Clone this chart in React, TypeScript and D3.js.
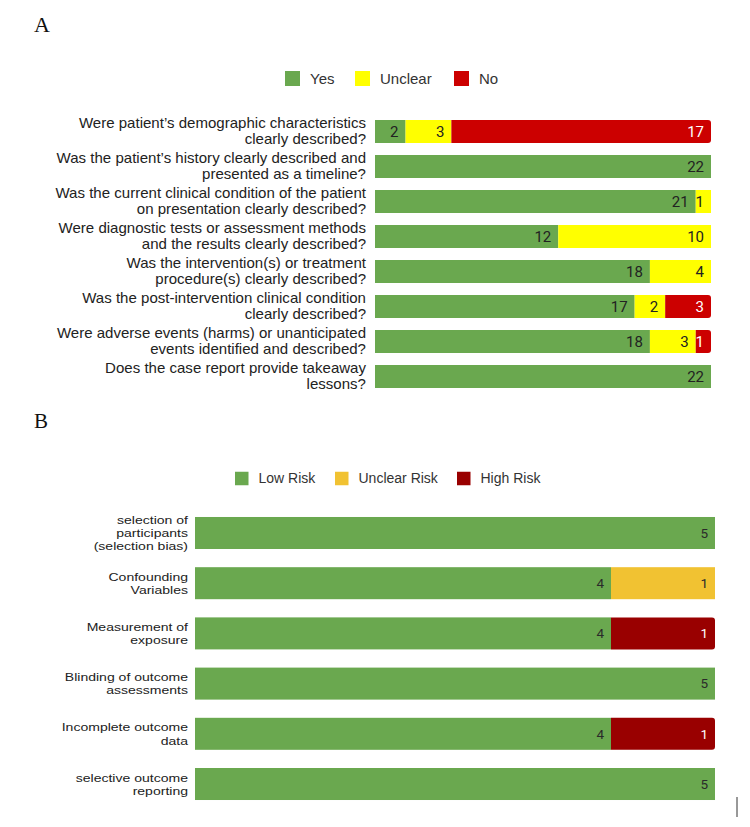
import React from "react";
import * as d3 from "d3";

const questionsA: string[][] = [
  ["Were patient’s demographic characteristics", "clearly described?"],
  ["Was the patient’s history clearly described and", "presented as a timeline?"],
  ["Was the current clinical condition of the patient", "on presentation clearly described?"],
  ["Were diagnostic tests or assessment methods", "and the results clearly described?"],
  ["Was the intervention(s) or treatment", "procedure(s) clearly described?"],
  ["Was the post-intervention clinical condition", "clearly described?"],
  ["Were adverse events (harms) or unanticipated", "events identified and described?"],
  ["Does the case report provide takeaway", "lessons?"],
];
const yesA = [2, 22, 21, 12, 18, 17, 18, 22];
const unclearA = [3, 0, 1, 10, 4, 2, 3, 0];
const noA = [17, 0, 0, 0, 0, 3, 1, 0];
const seriesA = ["Yes", "Unclear", "No"];
const colorsA = ["#6aa84f", "#ffff00", "#cc0000"];
const textColorsA = ["#222", "#222", "#fff"];

const domainsB: string[][] = [
  ["selection of", "participants", "(selection bias)"],
  ["Confounding", "Variables"],
  ["Measurement of", "exposure"],
  ["Blinding of outcome", "assessments"],
  ["Incomplete outcome", "data"],
  ["selective outcome", "reporting"],
];
const lowB = [5, 4, 4, 5, 4, 5];
const unclearB = [0, 1, 0, 0, 0, 0];
const highB = [0, 0, 1, 0, 1, 0];
const seriesB = ["Low Risk", "Unclear Risk", "High Risk"];
const colorsB = ["#6aa84f", "#f1c232", "#990000"];
const textColorsB = ["#2a2a2a", "#2a2a2a", "#fff"];

function roundedRight(x: number, y: number, w: number, h: number, r: number) {
  const rr = Math.min(r, w / 2, h / 2);
  return `M${x},${y}H${x + w - rr}Q${x + w},${y} ${x + w},${y + rr}V${y + h - rr}Q${x + w},${y + h} ${x + w - rr},${y + h}H${x}Z`;
}

type PanelProps = {
  labels: string[][];
  values: number[][];
  series: string[];
  colors: string[];
  textColors: string[];
  total: number;
  xRange: [number, number];
  yRange: [number, number];
  padInner: number;
  padOuter: number;
  labelX: number;
  labelFont: number;
  labelStretch: number;
  lineH: number;
  valueFont: number;
  legendX: number[];
  legendY: number;
  legendSize: number;
  legendFont: number;
  legendGap: number;
  roundLast: boolean;
};

function Panel(p: PanelProps) {
  const idx = p.labels.map((_, i) => String(i));
  const rows = idx.map((k, i) => {
    const o: any = { key: k };
    p.series.forEach((s, j) => (o[s] = p.values[j][i]));
    return o;
  });
  const stack = d3.stack<any>().keys(p.series)(rows);
  const x = d3.scaleLinear().domain([0, p.total]).range(p.xRange);
  const y = d3
    .scaleBand<string>()
    .domain(idx)
    .range(p.yRange)
    .paddingInner(p.padInner)
    .paddingOuter(p.padOuter);
  const bw = y.bandwidth();
  return (
    <g>
      {p.series.map((s, j) => (
        <g key={s}>
          <rect
            x={p.legendX[j]}
            y={p.legendY - p.legendSize / 2}
            width={p.legendSize}
            height={p.legendSize}
            fill={p.colors[j]}
          />
          <text
            x={p.legendX[j] + p.legendSize + p.legendGap}
            y={p.legendY}
            dy="0.35em"
            fontSize={p.legendFont}
            fill="#333"
            fontFamily="Liberation Sans, Arial, sans-serif"
          >
            {s}
          </text>
        </g>
      ))}
      <g transform={`translate(${p.labelX},0) scale(${p.labelStretch},1)`}>
        {p.labels.map((lines, i) => {
          const cy = (y(idx[i]) as number) + bw / 2;
          const start = cy - ((lines.length - 1) * p.lineH) / 2;
          return (
            <text
              key={"l" + i}
              x={0}
              textAnchor="end"
              fontSize={p.labelFont}
              fill="#222"
              fontFamily="Liberation Sans, Arial, sans-serif"
            >
              {lines.map((ln, k) => (
                <tspan key={k} x={0} y={start + k * p.lineH} dy="0.35em">
                  {ln}
                </tspan>
              ))}
            </text>
          );
        })}
      </g>
      {stack.map((layer, j) =>
        layer.map((d, i) => {
          const v = d[1] - d[0];
          if (v <= 0) return null;
          const x0 = x(d[0]);
          const x1 = x(d[1]);
          const yy = y(idx[i]) as number;
          const isLast = j === p.series.length - 1 && p.roundLast;
          return (
            <g key={j + "-" + i}>
              {isLast ? (
                <path d={roundedRight(x0, yy, x1 - x0, bw, 3)} fill={p.colors[j]} />
              ) : (
                <rect x={x0} y={yy} width={x1 - x0} height={bw} fill={p.colors[j]} />
              )}
              <text
                x={x1 - 7}
                y={yy + bw / 2}
                dy="0.36em"
                textAnchor="end"
                fontSize={p.valueFont}
                fill={p.textColors[j]}
                fontFamily="Roboto, Liberation Sans, Arial, sans-serif"
              >
                {v}
              </text>
            </g>
          );
        })
      )}
    </g>
  );
}

export default function App() {
  return (
    <svg
      width={750}
      height={827}
      style={{ position: "absolute", left: 0, top: 0, background: "#fff" }}
    >
      <rect x={0} y={0} width={750} height={827} fill="#fff" />
      <text x={34} y={32} fontSize={22} fontFamily="Liberation Serif, Times New Roman, serif" fill="#111">
        A
      </text>
      <text x={34} y={428} fontSize={21} fontFamily="Liberation Serif, Times New Roman, serif" fill="#111">
        B
      </text>
      <Panel
        labels={questionsA}
        values={[yesA, unclearA, noA]}
        series={seriesA}
        colors={colorsA}
        textColors={textColorsA}
        total={22}
        xRange={[375, 711]}
        yRange={[114, 394]}
        padInner={0.343}
        padOuter={0.1715}
        labelX={366}
        labelFont={14.2}
        labelStretch={1.06}
        lineH={16}
        valueFont={15}
        legendX={[285, 355, 454]}
        legendY={78.5}
        legendSize={15}
        legendFont={15}
        legendGap={10}
        roundLast={true}
      />
      <Panel
        labels={domainsB}
        values={[lowB, unclearB, highB]}
        series={seriesB}
        colors={colorsB}
        textColors={textColorsB}
        total={5}
        xRange={[195, 715]}
        yRange={[507.9, 809.1]}
        padInner={0.3625}
        padOuter={0.181}
        labelX={188}
        labelFont={11.8}
        labelStretch={1.19}
        lineH={13.2}
        valueFont={13.5}
        legendX={[235, 335, 457]}
        legendY={478.5}
        legendSize={13.5}
        legendFont={14}
        legendGap={10}
        roundLast={true}
      />
      <line x1={737} x2={737} y1={797} y2={817} stroke="#333" strokeWidth={1} />
    </svg>
  );
}
